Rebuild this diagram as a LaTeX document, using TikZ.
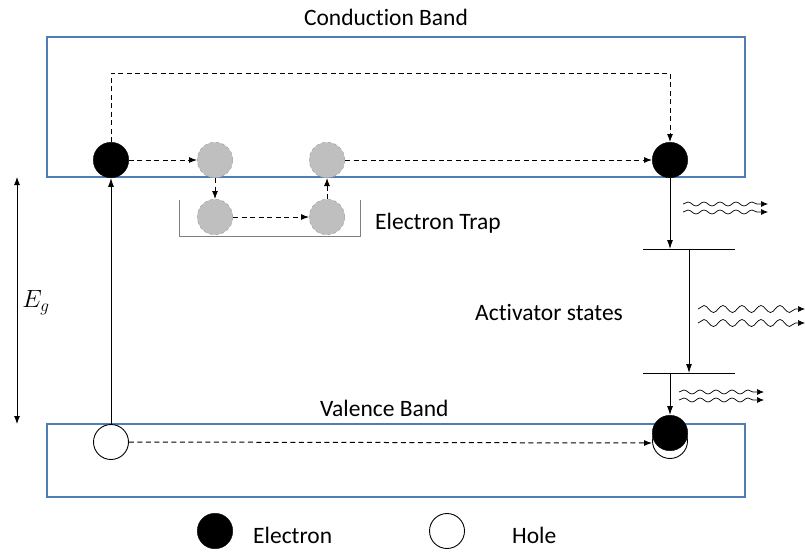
\documentclass[tikz,border=0pt]{standalone}
\usepackage{fontspec}
\setmainfont{Carlito}[Ligatures={NoCommon,NoContextual}]
\usetikzlibrary{arrows.meta,decorations.pathmorphing,calc}
\definecolor{bandblue}{RGB}{79,125,182}
\definecolor{trapfill}{RGB}{191,191,191}
\definecolor{trapdraw}{RGB}{160,160,160}
\begin{document}
\begin{tikzpicture}[x=1pt,y=-1pt,
  band/.style={draw=bandblue,line width=1.1pt},
  elec/.style={circle,fill=black,draw=black,minimum size=35.5pt,inner sep=0pt},
  holec/.style={circle,fill=white,draw=black,line width=0.9pt,minimum size=35pt,inner sep=0pt},
  trapc/.style={circle,fill=trapfill,draw=trapdraw,dashed,line width=0.5pt,minimum size=35.5pt,inner sep=0pt},
  lbl/.style={inner sep=0pt,font=\fontsize{23.5}{28}\selectfont},
  dasharrow/.style={dash pattern=on 5pt off 3.5pt,line width=1pt,-{Latex[length=8pt,width=6pt]}},
  solidarrow/.style={line width=0.9pt,-{Latex[length=9pt,width=6pt]}},
  level/.style={line width=1pt},
  wavesmall/.style={line width=0.7pt,-{Latex[length=7pt,width=6pt]},decorate,
    decoration={snake,amplitude=2pt,segment length=16pt,post length=5pt}},
  wavebig/.style={line width=0.7pt,-{Latex[length=7pt,width=6pt]},decorate,
    decoration={snake,amplitude=3.5pt,segment length=19pt,post length=5pt}}
]
\useasboundingbox (0,0) rectangle (805,552);
% bands
\draw[band] (47,37) rectangle (745,177);
\draw[band] (47,424) rectangle (745,497);
\node[lbl,anchor=base] (cbl) at (386,25) {Conduct\kern0pt ion Band};
\node[lbl,anchor=base west] (vbl) at (320,416) {Valence Band};
% trap bracket
\draw[draw=gray,line width=0.8pt] (179,200) |- (360,236) -- (360,200);
\node[lbl,anchor=base west] (etl) at (375,229) {Electron Trap};
% particles
\node[trapc] (t1) at (215,160) {};
\node[trapc] (t2) at (215,217) {};
\node[trapc] (t3) at (327,217) {};
\node[trapc] (t4) at (327,160) {};
\node[elec] (e1) at (111,160) {};
\node[elec] (e2) at (670,160) {};
\node[holec] (h1) at (111,442) {};
\node[holec] (h2) at (670,441) {};
\node[elec] (e3) at (670,433) {};
% dashed paths
\coordinate (topr) at (670,73);
\draw[dasharrow] (e1.north) |- (topr) -- (e2.north);
\draw[dasharrow] (e1.east) -- (t1.west);
\draw[dasharrow] (t1.south) -- (t2.north);
\draw[dasharrow] (t2.east) -- (t3.west);
\draw[dasharrow] (t3.north) -- (t4.south);
\draw[dasharrow] (t4.east) -- (e2.west);
\draw[dasharrow] (h1.east) -- ($(h2.west)+(0,2)$);
% excitation
\draw[solidarrow] (h1.north) -- (e1.south);
% activator levels
\coordinate (l1a) at (643,249);
\coordinate (l1b) at (735,249);
\coordinate (l2a) at (643,373);
\coordinate (l2b) at (735,373);
\draw[level] (l1a) -- (l1b);
\draw[level] (l2a) -- (l2b);
\coordinate (a1e) at (670,249);
\coordinate (a2s) at (689,249);
\coordinate (a2e) at (689,373);
\coordinate (a3s) at (670,373);
\draw[solidarrow] (e2.south) -- (a1e);
\draw[solidarrow] (a2s) -- (a2e);
\draw[solidarrow] (a3s) -- (e3.north);
\node[lbl,anchor=base west] (asl) at (475,320) {Activator states};
% emitted light
\coordinate (w1s) at (683,204); \coordinate (w1e) at (768,204);
\coordinate (w2s) at (683,212); \coordinate (w2e) at (768,212);
\coordinate (w3s) at (698,309); \coordinate (w3e) at (805,309);
\coordinate (w4s) at (698,323); \coordinate (w4e) at (805,323);
\coordinate (w5s) at (679,392); \coordinate (w5e) at (764,392);
\coordinate (w6s) at (679,400); \coordinate (w6e) at (764,400);
\draw[wavesmall] (w1s) -- (w1e);
\draw[wavesmall] (w2s) -- (w2e);
\draw[wavebig] (w3s) -- (w3e);
\draw[wavebig] (w4s) -- (w4e);
\draw[wavesmall] (w5s) -- (w5e);
\draw[wavesmall] (w6s) -- (w6e);
% band gap
\coordinate (ga) at (17,177);
\coordinate (gb) at (17,424);
\draw[line width=0.9pt,{Latex[length=8pt,width=6pt]}-{Latex[length=8pt,width=6pt]}] (ga) -- (gb);
\node[font=\fontsize{25}{28}\selectfont] (eg) at (36,303) {$E_g$};
% legend
\node[elec] (le) at (215,531) {};
\node[lbl,anchor=base west] (lel) at (253,543) {Electron};
\node[holec] (lh) at (447,531) {};
\node[lbl,anchor=base west] (lhl) at (512,543) {Hole};
\end{tikzpicture}
\end{document}
